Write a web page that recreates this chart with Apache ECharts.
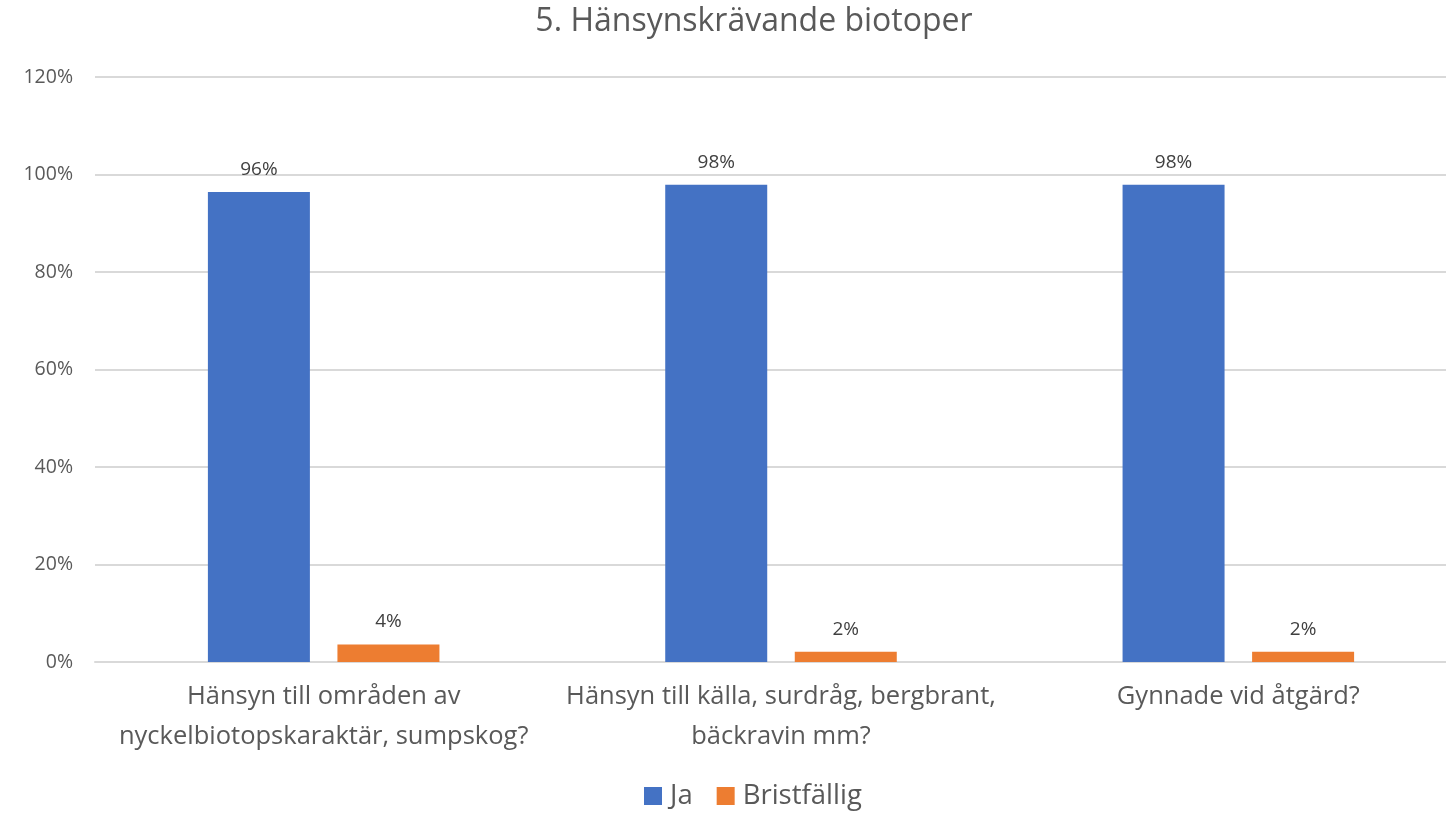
<!DOCTYPE html>
<html>
<head>
<meta charset="utf-8">
<script src="https://cdn.jsdelivr.net/npm/echarts@6/dist/echarts.min.js"></script>
<style>
  html, body { margin: 0; padding: 0; background: #fff; }
  #chart { width: 1446px; height: 813px; }
</style>
</head>
<body>
<div id="chart"></div>
<script>
const categories = [
  "Hänsyn till områden av\nnyckelbiotopskaraktär, sumpskog?",
  "Hänsyn till källa, surdråg, bergbrant,\nbäckravin mm?",
  "Gynnade vid åtgärd?",
];
const jaValues = [96.4, 97.9, 97.9];
const bristValues = [3.6, 2.1, 2.1];

const FONT = "'Open Sans', sans-serif";
const AXIS_TEXT = "#595959";

const chart = echarts.init(document.getElementById("chart"));

const labelStyle = {
  show: true,
  position: "top",
  distance: 13,
  color: "#404040",
  fontSize: 19,
  fontFamily: FONT,
  formatter: (p) => Math.round(p.value) + "%",
};

chart.setOption({
  animation: false,
  title: {
    text: "5. Hänsynskrävande biotoper",
    left: 749,
    top: 1,
    textAlign: "center",
    textStyle: { color: AXIS_TEXT, fontSize: 32, fontWeight: "normal", fontFamily: FONT },
  },
  legend: {
    top: 782,
    left: 644,
    padding: 0,
    itemWidth: 18,
    itemHeight: 18,
    itemGap: 24,
    icon: "rect",
    textStyle: { color: AXIS_TEXT, fontSize: 27.5, fontFamily: FONT, padding: [0, 0, 0, 3] },
  },
  // the plot area runs past the right edge of the picture
  grid: { left: 95, width: 1372, top: 77, bottom: 151, outerBoundsMode: "none" },
  xAxis: {
    type: "category",
    data: categories,
    axisLine: { lineStyle: { color: "#d9d9d9", width: 2 } },
    axisTick: { show: false },
    axisLabel: {
      color: AXIS_TEXT,
      fontSize: 25.5,
      lineHeight: 40,
      margin: 15,
      fontFamily: FONT,
      interval: 0,
    },
  },
  yAxis: {
    type: "value",
    min: 0,
    max: 120,
    interval: 20,
    axisLine: { show: false },
    axisTick: { show: false },
    axisLabel: {
      color: AXIS_TEXT,
      fontSize: 19.5,
      margin: 22,
      fontFamily: FONT,
      formatter: (v) => v + "%",
    },
    splitLine: { lineStyle: { color: "#d9d9d9", width: 2 } },
  },
  series: [
    {
      name: "Ja",
      type: "bar",
      data: jaValues,
      barWidth: 102,
      barGap: "27%",
      itemStyle: { color: "#4472c4" },
      label: labelStyle,
    },
    {
      name: "Bristfällig",
      type: "bar",
      data: bristValues,
      barWidth: 102,
      itemStyle: { color: "#ed7d31" },
      label: labelStyle,
    },
  ],
});
</script>
</body>
</html>
